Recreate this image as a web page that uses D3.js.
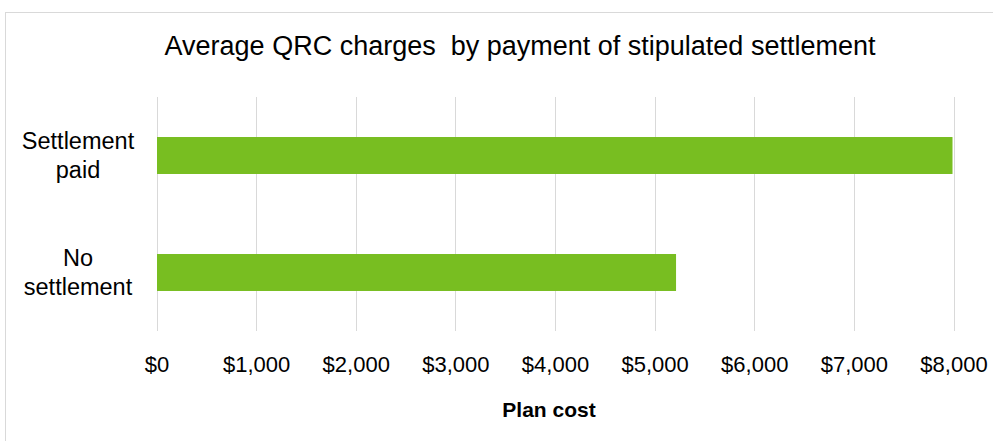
<!DOCTYPE html>
<html>
<head>
<meta charset="utf-8">
<script src="https://cdn.jsdelivr.net/npm/d3@7"></script>
<style>
  html, body { margin: 0; padding: 0; background: #fff; }
  svg { display: block; }
  text { font-family: "Liberation Sans", Arial, sans-serif; fill: #000; }
</style>
</head>
<body>
<svg id="chart" width="993" height="441"></svg>
<script>
const categories = ["Settlement paid", "No settlement"];
const categoryLines = [["Settlement", "paid"], ["No", "settlement"]];
const values = [7990, 5215];
const tickValues = [0, 1000, 2000, 3000, 4000, 5000, 6000, 7000, 8000];
const titleText = "Average QRC charges  by payment of stipulated settlement";
const axisTitle = "Plan cost";

const W = 993, H = 441;
const svg = d3.select("#chart");

// outer chart border (only top/left visible within frame)
svg.append("rect")
  .attr("x", 5.5).attr("y", 12.5)
  .attr("width", 1000).attr("height", 440)
  .attr("fill", "#fff").attr("stroke", "#d9d9d9").attr("stroke-width", 1);

const plot = { left: 156.5, right: 953.5, top: 97, bottom: 331 };

const x = d3.scaleLinear().domain([0, 8000]).range([plot.left, plot.right]);
const y = d3.scaleBand().domain(categories).range([plot.top, plot.bottom])
  .paddingInner(0.684).paddingOuter(0.342);

// gridlines
svg.append("g").selectAll("line").data(tickValues).join("line")
  .attr("x1", d => Math.round(x(d)) + 0.5).attr("x2", d => Math.round(x(d)) + 0.5)
  .attr("y1", plot.top).attr("y2", plot.bottom)
  .attr("stroke", "#d9d9d9").attr("stroke-width", 1);

// bars
svg.append("g").selectAll("rect").data(categories).join("rect")
  .attr("x", x(0) + 0.5)
  .attr("y", d => y(d))
  .attr("width", (d, i) => x(values[i]) - x(0) - 0.5)
  .attr("height", y.bandwidth())
  .attr("fill", "#78be21");

// x axis tick labels
const fmt = d => "$" + d3.format(",")(d);
const xAxis = d3.axisBottom(x).tickValues(tickValues).tickFormat(fmt).tickSize(0).tickPadding(0);
const gx = svg.append("g").attr("transform", `translate(0, ${plot.bottom})`).call(xAxis);
gx.select(".domain").remove();
gx.selectAll("text")
  .attr("dy", null).attr("y", 41)
  .style("font-family", '"Liberation Sans", Arial, sans-serif')
  .style("font-size", "22px").attr("fill", "#000");

// category labels
const gy = svg.append("g");
categories.forEach((c, i) => {
  const cy = y(c) + y.bandwidth() / 2;
  const lines = categoryLines[i];
  const t = gy.append("text").attr("text-anchor", "middle")
    .style("font-size", "23.5px");
  lines.forEach((ln, j) => {
    t.append("tspan").attr("x", 78)
      .attr("y", cy + (j - (lines.length - 1) / 2) * 29 + 7.5)
      .text(ln);
  });
});

// title
svg.append("text")
  .attr("x", 520).attr("y", 55)
  .attr("text-anchor", "middle")
  .style("white-space", "pre")
  .attr("xml:space", "preserve")
  .style("font-size", "27px")
  .text(titleText);

// axis title
svg.append("text")
  .attr("x", 549).attr("y", 417)
  .attr("text-anchor", "middle")
  .style("font-size", "21px").style("font-weight", "bold")
  .text(axisTitle);
</script>
</body>
</html>
